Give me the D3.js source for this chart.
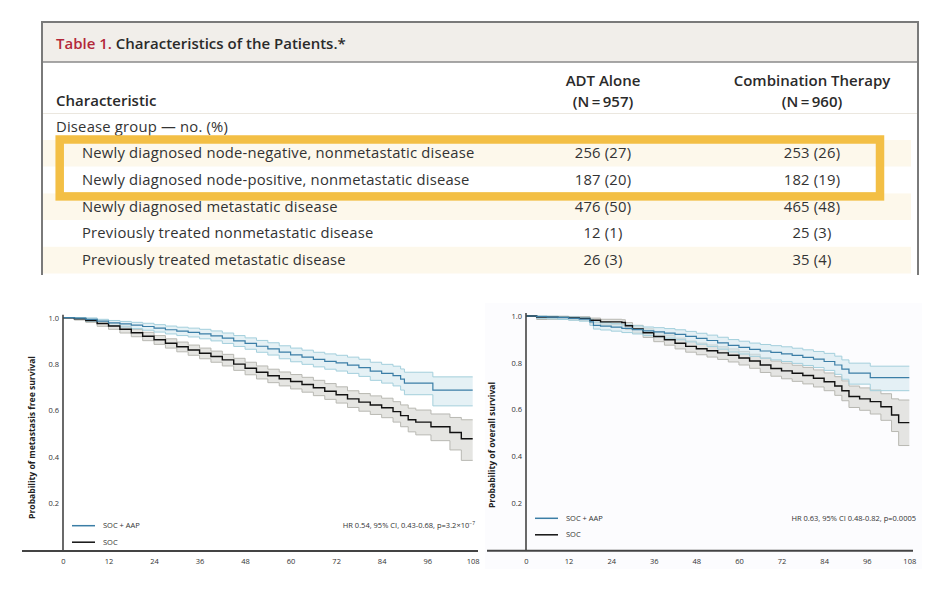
<!DOCTYPE html>
<html lang="en">
<head>
  <meta charset="UTF-8">
  <title>Characteristics of the Patients and survival curves</title>
  <script src="https://d3js.org/d3.v7.min.js"></script>
  <style>
    body {
      margin: 0;
      background: #fff;
      font-family: "Open Sans", sans-serif;
    }
    .cell {
      font-size: 14.8px;
      letter-spacing: 0.2px;
      fill: #333;
    }
    .head {
      font-size: 15px;
      font-weight: 600;
      fill: #2a2a2a;
    }
    .tick text {
      font-size: 7.5px;
      fill: #333;
      font-family: "Open Sans", sans-serif;
    }
    .small {
      font-size: 7.5px;
      fill: #333;
    }
    .ylab {
      font-size: 8.6px;
      font-weight: 700;
      fill: #222;
    }
  </style>
</head>
<body>
<svg width="945" height="591"></svg>

<script>
// ---- table data ----
const groupLabels = [
  "Newly diagnosed node-negative, nonmetastatic disease",
  "Newly diagnosed node-positive, nonmetastatic disease",
  "Newly diagnosed metastatic disease",
  "Previously treated nonmetastatic disease",
  "Previously treated metastatic disease"
];
const adtAlone = ["256 (27)", "187 (20)", "476 (50)", "12 (1)", "26 (3)"];
const combination = ["253 (26)", "182 (19)", "465 (48)", "25 (3)", "35 (4)"];
const highlighted = [0, 1];

// ---- curve data (months, survival, lower CI, upper CI) ----
const xTicks = [0, 12, 24, 36, 48, 60, 72, 84, 96, 108];
const yTicks = [0.2, 0.4, 0.6, 0.8, 1.0];

// metastasis free survival, SOC + AAP
const mfsAapT  = [0, 3, 6, 9, 12, 15, 18, 21, 24, 27, 30, 33, 36, 39, 42, 45, 48, 51, 54, 57, 60, 63, 66, 69, 72, 75, 78, 81, 84, 87, 89, 90, 97.5, 108];
const mfsAapS  = [1, 0.998, 0.993, 0.985, 0.978, 0.973, 0.968, 0.962, 0.955, 0.948, 0.942, 0.937, 0.930, 0.922, 0.912, 0.900, 0.889, 0.877, 0.866, 0.852, 0.840, 0.830, 0.820, 0.812, 0.805, 0.796, 0.785, 0.770, 0.760, 0.750, 0.735, 0.718, 0.688, 0.688];
const mfsAapLo = [1, 0.995, 0.985, 0.975, 0.966, 0.960, 0.953, 0.946, 0.938, 0.930, 0.923, 0.917, 0.909, 0.900, 0.889, 0.876, 0.864, 0.851, 0.839, 0.823, 0.810, 0.799, 0.788, 0.778, 0.770, 0.760, 0.747, 0.730, 0.718, 0.706, 0.688, 0.668, 0.620, 0.620];
const mfsAapHi = [1, 1, 0.999, 0.993, 0.988, 0.984, 0.980, 0.976, 0.970, 0.964, 0.959, 0.955, 0.950, 0.943, 0.934, 0.923, 0.913, 0.902, 0.892, 0.879, 0.869, 0.860, 0.851, 0.844, 0.838, 0.830, 0.821, 0.808, 0.799, 0.791, 0.779, 0.765, 0.745, 0.745];

// metastasis free survival, SOC
const mfsSocT  = [0, 3, 6, 9, 12, 15, 18, 21, 24, 27, 30, 33, 36, 39, 42, 45, 48, 51, 54, 57, 60, 63, 66, 69, 72, 75, 78, 81, 84, 87, 89, 91, 93, 97, 102, 105, 108];
const mfsSocS  = [1, 0.995, 0.988, 0.975, 0.964, 0.950, 0.935, 0.920, 0.905, 0.890, 0.875, 0.861, 0.847, 0.833, 0.818, 0.800, 0.782, 0.765, 0.750, 0.737, 0.725, 0.712, 0.698, 0.683, 0.668, 0.650, 0.636, 0.624, 0.612, 0.595, 0.578, 0.560, 0.550, 0.530, 0.505, 0.478, 0.478];
const mfsSocLo = [1, 0.990, 0.980, 0.963, 0.950, 0.934, 0.918, 0.901, 0.885, 0.869, 0.853, 0.838, 0.823, 0.808, 0.792, 0.773, 0.754, 0.736, 0.720, 0.706, 0.693, 0.679, 0.664, 0.648, 0.632, 0.613, 0.597, 0.583, 0.569, 0.550, 0.530, 0.508, 0.495, 0.470, 0.430, 0.385, 0.385];
const mfsSocHi = [1, 1, 0.995, 0.985, 0.976, 0.964, 0.950, 0.937, 0.923, 0.909, 0.895, 0.882, 0.869, 0.856, 0.842, 0.825, 0.808, 0.792, 0.778, 0.766, 0.755, 0.743, 0.730, 0.716, 0.702, 0.685, 0.673, 0.663, 0.653, 0.638, 0.624, 0.610, 0.602, 0.585, 0.570, 0.560, 0.560];

// overall survival, SOC + AAP
const osAapT  = [0, 3, 6, 9, 12, 15, 18, 19, 21, 24, 27, 30, 33, 36, 39, 42, 45, 48, 51, 54, 57, 60, 63, 66, 69, 72, 75, 78, 81, 84, 87, 89, 91, 97, 108];
const osAapS  = [1, 0.997, 0.995, 0.993, 0.990, 0.987, 0.975, 0.960, 0.957, 0.952, 0.947, 0.942, 0.936, 0.932, 0.927, 0.921, 0.913, 0.904, 0.895, 0.885, 0.874, 0.866, 0.857, 0.850, 0.844, 0.838, 0.831, 0.823, 0.815, 0.805, 0.790, 0.772, 0.755, 0.736, 0.736];
const osAapLo = [1, 0.990, 0.988, 0.985, 0.982, 0.978, 0.960, 0.944, 0.940, 0.935, 0.929, 0.923, 0.916, 0.911, 0.905, 0.898, 0.889, 0.879, 0.869, 0.858, 0.846, 0.837, 0.827, 0.819, 0.812, 0.805, 0.797, 0.788, 0.779, 0.767, 0.750, 0.729, 0.708, 0.680, 0.680];
const osAapHi = [1, 1, 0.999, 0.998, 0.996, 0.994, 0.986, 0.974, 0.971, 0.967, 0.962, 0.958, 0.953, 0.950, 0.946, 0.941, 0.934, 0.926, 0.918, 0.909, 0.899, 0.892, 0.884, 0.878, 0.873, 0.868, 0.862, 0.855, 0.848, 0.840, 0.828, 0.812, 0.798, 0.785, 0.785];

// overall survival, SOC
const osSocT  = [0, 3, 6, 9, 12, 15, 18, 21, 27, 28, 30, 33, 36, 39, 42, 45, 48, 51, 54, 57, 60, 63, 66, 69, 72, 75, 78, 81, 84, 87, 89, 91, 94, 97, 100, 103, 105, 108];
const osSocS  = [1, 0.996, 0.995, 0.994, 0.992, 0.990, 0.982, 0.975, 0.972, 0.958, 0.945, 0.928, 0.912, 0.898, 0.883, 0.870, 0.860, 0.851, 0.842, 0.832, 0.820, 0.807, 0.790, 0.775, 0.765, 0.755, 0.745, 0.733, 0.718, 0.700, 0.680, 0.655, 0.645, 0.633, 0.611, 0.576, 0.543, 0.543];
const osSocLo = [1, 0.985, 0.986, 0.985, 0.983, 0.980, 0.970, 0.962, 0.958, 0.942, 0.927, 0.908, 0.890, 0.875, 0.859, 0.845, 0.834, 0.824, 0.814, 0.803, 0.790, 0.776, 0.758, 0.742, 0.731, 0.720, 0.709, 0.696, 0.680, 0.660, 0.637, 0.608, 0.596, 0.580, 0.553, 0.505, 0.445, 0.445];
const osSocHi = [1, 1, 0.999, 0.999, 0.998, 0.997, 0.991, 0.986, 0.984, 0.972, 0.960, 0.945, 0.931, 0.918, 0.905, 0.893, 0.884, 0.876, 0.868, 0.859, 0.848, 0.836, 0.821, 0.807, 0.798, 0.789, 0.780, 0.769, 0.756, 0.740, 0.722, 0.700, 0.692, 0.684, 0.667, 0.645, 0.640, 0.640];

const svg = d3.select("svg");

// ================= table =================
const tLeft = 42, tRight = 918, tTop = 22, tBottom = 275;
const rowY = d3.scaleBand().domain(d3.range(groupLabels.length)).range([140, 273.5]);
const colX = d3.scaleOrdinal().domain(["adt", "combo"]).range([603, 812]);

// title bar
svg.append("rect")
  .attr("x", tLeft).attr("y", tTop)
  .attr("width", tRight - tLeft).attr("height", 40)
  .attr("fill", "#f1eeea");
svg.append("line")
  .attr("x1", tLeft).attr("x2", tRight)
  .attr("y1", tTop + 40).attr("y2", tTop + 40)
  .attr("stroke", "#8a8a8a").attr("stroke-width", 1.5);

const title = svg.append("text")
  .attr("class", "head")
  .attr("x", 56).attr("y", 48.5)
  .style("font-size", "15px");
title.append("tspan").attr("fill", "#b3283a").text("Table 1. ");
title.append("tspan").text("Characteristics of the Patients.*");

// header
svg.append("text").attr("class", "head").attr("x", 56).attr("y", 105.5).text("Characteristic");
svg.append("text").attr("class", "head").attr("x", colX("adt")).attr("y", 86)
  .attr("text-anchor", "middle").text("ADT Alone");
svg.append("text").attr("class", "head").attr("x", colX("adt")).attr("y", 106.5)
  .attr("text-anchor", "middle").text("(N\u2009=\u2009957)");
svg.append("text").attr("class", "head").attr("x", colX("combo")).attr("y", 86)
  .attr("text-anchor", "middle").text("Combination Therapy");
svg.append("text").attr("class", "head").attr("x", colX("combo")).attr("y", 106.5)
  .attr("text-anchor", "middle").text("(N\u2009=\u2009960)");
svg.append("line")
  .attr("x1", tLeft + 1).attr("x2", tRight - 1)
  .attr("y1", 113.5).attr("y2", 113.5)
  .attr("stroke", "#ebe7df").attr("stroke-width", 1);

svg.append("text").attr("class", "cell").attr("x", 56).attr("y", 132)
  .text("Disease group \u2014 no. (%)");

// row bands
svg.selectAll(".band")
  .data(groupLabels)
  .enter().append("rect")
  .attr("class", "band")
  .attr("x", tLeft + 1)
  .attr("y", (d, i) => rowY(i))
  .attr("width", tRight - tLeft - 8)
  .attr("height", rowY.bandwidth())
  .attr("fill", (d, i) => i % 2 === 0 ? "#fdf8eb" : "#ffffff");

const rows = svg.selectAll(".row")
  .data(groupLabels)
  .enter().append("g")
  .attr("class", "row")
  .attr("transform", (d, i) => `translate(0,${rowY(i) + rowY.bandwidth() / 2 + 5})`);

rows.append("text").attr("class", "cell").attr("x", 82).text(d => d);
rows.append("text").attr("class", "cell").attr("x", colX("adt"))
  .attr("text-anchor", "middle").text((d, i) => adtAlone[i]);
rows.append("text").attr("class", "cell").attr("x", colX("combo"))
  .attr("text-anchor", "middle").text((d, i) => combination[i]);

// outer border (bottom is cut off)
svg.append("path")
  .attr("d", `M${tLeft},${tBottom}V${tTop}H${tRight}V${tBottom}`)
  .attr("fill", "none")
  .attr("stroke", "#7a7a7a")
  .attr("stroke-width", 2);

// highlight box
const hTop = rowY(highlighted[0]) - 0.5;
const hBottom = rowY(highlighted[highlighted.length - 1]) + rowY.bandwidth() + 3;
svg.append("rect")
  .attr("x", 59.7).attr("y", hTop)
  .attr("width", 880 - 59.7).attr("height", hBottom - hTop)
  .attr("fill", "none")
  .attr("stroke", "#f3bf45")
  .attr("stroke-width", 8.5);

// ================= survival charts =================
function series(t, s, lo, hi) {
  return t.map((m, i) => ({ t: m, s: s[i], lo: lo[i], hi: hi[i] }));
}

function drawKM(opt) {
  const x = d3.scaleLinear().domain([0, 108]).range(opt.xRange);
  const y = d3.scaleLinear().domain([0, 1]).range(opt.yRange);
  const g = svg.append("g");

  if (opt.panel) {
    g.append("rect")
      .attr("x", opt.panel[0]).attr("y", opt.panel[1])
      .attr("width", opt.panel[2]).attr("height", opt.panel[3])
      .attr("fill", "#fcfcfe");
  }

  const area = d3.area().curve(d3.curveStepAfter)
    .x(d => x(d.t)).y0(d => y(d.lo)).y1(d => y(d.hi));
  const lineS = d3.line().curve(d3.curveStepAfter).x(d => x(d.t)).y(d => y(d.s));
  const lineLo = d3.line().curve(d3.curveStepAfter).x(d => x(d.t)).y(d => y(d.lo));
  const lineHi = d3.line().curve(d3.curveStepAfter).x(d => x(d.t)).y(d => y(d.hi));

  const groups = [
    { data: opt.soc, fill: "#d3d3ce", edge: "#b8b8b2", line: "#111111", w: 1.4 },
    { data: opt.aap, fill: "#d3e8ee", edge: "#a3cfdc", line: "#3b7ea6", w: 1.2 }
  ];

  groups.forEach(s => {
    g.append("path").attr("d", area(s.data))
      .attr("fill", s.fill).attr("fill-opacity", 0.6);
    g.append("path").attr("d", lineLo(s.data))
      .attr("fill", "none").attr("stroke", s.edge).attr("stroke-width", 1);
    g.append("path").attr("d", lineHi(s.data))
      .attr("fill", "none").attr("stroke", s.edge).attr("stroke-width", 1);
  });
  groups.forEach(s => {
    g.append("path").attr("d", lineS(s.data))
      .attr("fill", "none").attr("stroke", s.line).attr("stroke-width", s.w);
  });

  // axes
  const yAxis = g.append("g")
    .attr("transform", `translate(${opt.xRange[0]},0)`)
    .call(d3.axisLeft(y).tickValues(yTicks).tickSize(0).tickPadding(4).tickFormat(d3.format(".1f")));
  yAxis.select(".domain").remove();

  const xAxis = g.append("g")
    .attr("transform", `translate(0,${opt.axisY})`)
    .call(d3.axisBottom(x).tickValues(xTicks).tickSize(0).tickPadding(8));
  xAxis.select(".domain").remove();

  g.append("line")
    .attr("x1", x(0)).attr("x2", x(0))
    .attr("y1", y(1) - 3).attr("y2", opt.axisY)
    .attr("stroke", "#444").attr("stroke-width", 1.6);
  g.append("line")
    .attr("x1", opt.axisExtent[0]).attr("x2", opt.axisExtent[1])
    .attr("y1", opt.axisY).attr("y2", opt.axisY)
    .attr("stroke", "#444").attr("stroke-width", 2);

  // y label
  g.append("text")
    .attr("class", "ylab")
    .attr("transform", `translate(${opt.labelPos[0]},${opt.labelPos[1]}) rotate(-90)`)
    .attr("text-anchor", "middle")
    .text(opt.yLabel);

  // legend
  const lx = x(0) + 9;
  [["SOC + AAP", "#3b7ea6", 0], ["SOC", "#111", 1]].forEach(([name, c, i]) => {
    const ly = opt.legendY + i * 16.5;
    g.append("line")
      .attr("x1", lx).attr("x2", lx + 23)
      .attr("y1", ly).attr("y2", ly)
      .attr("stroke", c).attr("stroke-width", 1.5);
    g.append("text").attr("class", "small")
      .attr("x", lx + 31).attr("y", ly + 2.6).text(name);
  });

  const hr = g.append("text").attr("class", "small")
    .attr("x", opt.hrRight).attr("y", opt.legendY + 2.6)
    .attr("text-anchor", "end")
    .text(opt.hr);
  if (opt.hrSup) {
    hr.append("tspan").attr("dy", -3).style("font-size", "5px").text(opt.hrSup);
  }
}

drawKM({
  xRange: [63, 472.7],
  yRange: [549.7, 317.7],
  axisY: 551,
  axisExtent: [22, 478],
  yLabel: "Probability of metastasis free survival",
  labelPos: [35, 437.5],
  legendY: 525.7,
  hrRight: 475,
  hr: "HR 0.54, 95% CI, 0.43-0.68, p=3.2\u00d710",
  hrSup: "\u22127",
  aap: series(mfsAapT, mfsAapS, mfsAapLo, mfsAapHi),
  soc: series(mfsSocT, mfsSocS, mfsSocLo, mfsSocHi)
});

drawKM({
  xRange: [526, 909.3],
  yRange: [549.4, 316],
  axisY: 550.7,
  axisExtent: [487, 913],
  panel: [485, 303, 437, 266],
  yLabel: "Probability of overall survival",
  labelPos: [495, 445],
  legendY: 518.3,
  hrRight: 916,
  hr: "HR 0.63, 95% CI 0.48-0.82, p=0.0005",
  aap: series(osAapT, osAapS, osAapLo, osAapHi),
  soc: series(osSocT, osSocS, osSocLo, osSocHi)
});
</script>
</body>
</html>
